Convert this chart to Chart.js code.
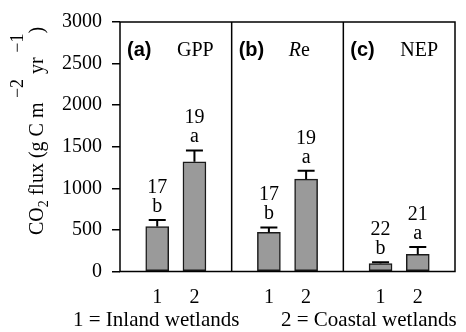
<!DOCTYPE html>
<html><head><meta charset="utf-8">
<script src="https://cdn.jsdelivr.net/npm/chart.js@4"></script>
<style>html,body{margin:0;padding:0;background:#fff}</style>
</head><body>
<canvas id="c" width="466" height="332"></canvas>
<script>
// ---- data ----
const panelTags = ['(a)', '(b)', '(c)'];
const panelNames = ['GPP', 'Re', 'NEP'];
const siteLabels = ['1', '2'];
const gppMean = [540, 1320];
const reMean = [470, 1110];
const nepMean = [95, 205];
const gppErr = [80, 135];
const reErr = [60, 100];
const nepErr = [15, 90];
const gppN = ['17', '19'];
const reN = ['17', '19'];
const nepN = ['22', '21'];
const gppLetter = ['b', 'a'];
const reLetter = ['b', 'a'];
const nepLetter = ['b', 'a'];
const yTicks = [0, 500, 1000, 1500, 2000, 2500, 3000];
const footerLabels = ['1 = Inland wetlands', '2 = Coastal wetlands'];

const means = [gppMean, reMean, nepMean];
const errs = [gppErr, reErr, nepErr];
const ns = [gppN, reN, nepN];
const letters = [gppLetter, reLetter, nepLetter];

const SERIF = "Liberation Serif, serif";
const SANS = "Liberation Sans, sans-serif";
Chart.defaults.font.family = SERIF;
Chart.defaults.font.size = 20;
Chart.defaults.color = '#000';

const points = [], pErr = [], pN = [], pLet = [], tickPos = [], tickText = [];
means.forEach((arr, p) => arr.forEach((v, s) => {
  const x = p * 3 + s + 1;
  points.push({x: x, y: v});
  pErr.push(errs[p][s]); pN.push(ns[p][s]); pLet.push(letters[p][s]);
  tickPos.push(x); tickText.push(siteLabels[s]);
}));

const deco = {
  id: 'deco',
  afterDatasetsDraw(chart) {
    const ctx = chart.ctx, ca = chart.chartArea;
    const xs = chart.scales.x, ys = chart.scales.y;
    const meta = chart.getDatasetMeta(0);
    ctx.save();
    // error bars + annotations
    meta.data.forEach((bar, i) => {
      const yTop = ys.getPixelForValue(points[i].y);
      const yCap = ys.getPixelForValue(points[i].y + pErr[i]);
      ctx.strokeStyle = '#000'; ctx.lineWidth = 2;
      ctx.beginPath();
      ctx.moveTo(bar.x, yTop); ctx.lineTo(bar.x, yCap);
      ctx.moveTo(bar.x - 8.5, yCap); ctx.lineTo(bar.x + 8.5, yCap);
      ctx.stroke();
      ctx.fillStyle = '#000';
      ctx.font = '20px ' + SERIF;
      ctx.textAlign = 'center'; ctx.textBaseline = 'alphabetic';
      ctx.fillText(pLet[i], bar.x, yCap - 8);
      ctx.fillText(pN[i], bar.x, yCap - 27);
    });
    // frame
    ctx.strokeStyle = '#000'; ctx.lineWidth = 1.5;
    ctx.strokeRect(ca.left, ca.top, ca.right - ca.left, ca.bottom - ca.top);
    // panel dividers and titles
    for (let p = 0; p < panelNames.length; p++) {
      const left = xs.getPixelForValue(p * 3);
      if (p > 0) {
        ctx.beginPath(); ctx.moveTo(left, ca.top); ctx.lineTo(left, ca.bottom); ctx.stroke();
      }
      const by = ca.top + 34;
      ctx.textAlign = 'left';
      ctx.font = 'bold 20px ' + SANS;
      ctx.fillText(panelTags[p], left + 7, by);
      const nx = left + 57;
      if (panelNames[p] === 'Re') {
        ctx.font = 'italic 20px ' + SERIF;
        ctx.fillText('R', nx, by);
        const w = ctx.measureText('R').width;
        ctx.font = '20px ' + SERIF;
        ctx.fillText('e', nx + w, by);
      } else {
        ctx.font = '20px ' + SERIF;
        ctx.fillText(panelNames[p], nx, by);
      }
    }
    // footer
    ctx.font = '21px ' + SERIF;
    ctx.textAlign = 'left';
    ctx.fillText(footerLabels[0], 73, 326);
    ctx.fillText(footerLabels[1], 281, 326);
    // y axis title with sub/superscripts
    const segs = [
      {t: 'CO', s: 20, dy: 0},
      {t: '2', s: 14, dy: 5},
      {t: ' flux (g C m', s: 20, dy: 0},
      {t: ' \u22122', s: 18, dy: -20},
      {t: ' yr', s: 20, dy: 0},
      {t: ' \u22121', s: 18, dy: -20},
      {t: ')', s: 20, dy: 0}
    ];
    let total = 0;
    segs.forEach(g => { ctx.font = g.s + 'px ' + SERIF; g.w = ctx.measureText(g.t).width; total += g.w; });
    ctx.translate(43, 131);
    ctx.rotate(-Math.PI / 2);
    let x0 = -total / 2;
    segs.forEach(g => { ctx.font = g.s + 'px ' + SERIF; ctx.fillText(g.t, x0, g.dy); x0 += g.w; });
    ctx.restore();
  }
};

new Chart(document.getElementById('c'), {
  type: 'bar',
  data: {
    datasets: [{
      data: points,
      backgroundColor: '#9a9a9a',
      borderColor: '#1a1a1a',
      borderWidth: 1.5,
      borderSkipped: false,
      barThickness: 23
    }]
  },
  options: {
    responsive: false,
    animation: false,
    events: [],
    layout: {padding: {top: 18, right: 11, left: 0, bottom: 0}},
    plugins: {legend: {display: false}, tooltip: {enabled: false}, title: {display: false}},
    scales: {
      x: {
        type: 'linear', min: 0, max: 9, offset: false,
        grid: {display: false, drawTicks: false},
        border: {display: false},
        afterBuildTicks: s => { s.ticks = tickPos.map(v => ({value: v})); },
        afterFit: s => { s.height = 60.5; },
        ticks: {
          autoSkip: false, maxRotation: 0, padding: 14, color: '#000',
          font: {family: SERIF, size: 20},
          callback: (v) => { const i = tickPos.indexOf(v); return i >= 0 ? tickText[i] : ''; }
        }
      },
      y: {
        min: 0, max: 3000,
        afterBuildTicks: s => { s.ticks = yTicks.map(v => ({value: v})); },
        afterFit: s => { s.width = 120; },
        grid: {drawOnChartArea: false, drawTicks: true, tickLength: 8, color: '#000', lineWidth: 1.5},
        border: {display: false},
        ticks: {padding: 10, color: '#000', font: {family: SERIF, size: 20},
          callback: (v) => String(v)}
      }
    }
  },
  plugins: [deco]
});
</script>
</body></html>
